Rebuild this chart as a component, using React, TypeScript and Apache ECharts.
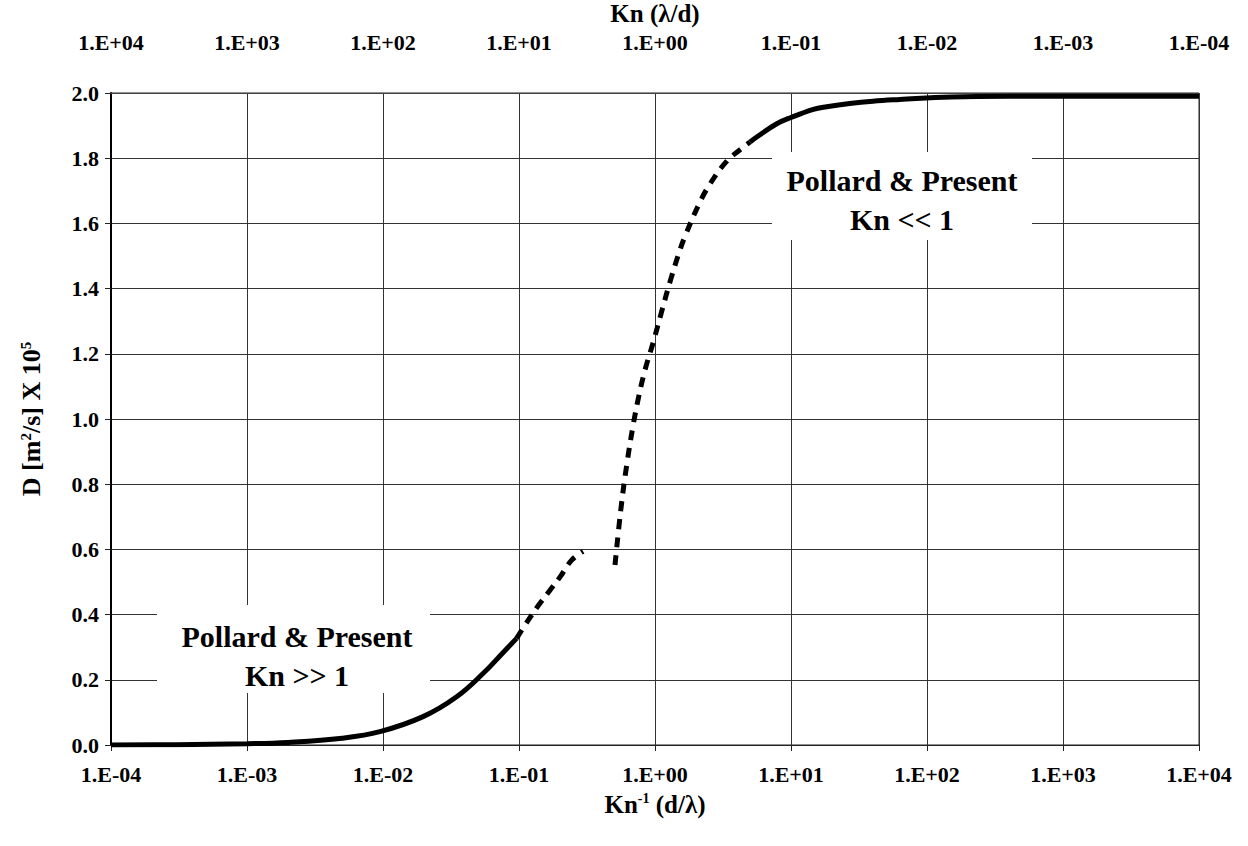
import React, { useEffect, useRef } from "react";
import * as echarts from "echarts";

// Kn^-1 (d/λ) values and D [m²/s] x 10^5
const freeSolidX = [0.0001, 0.0003, 0.001, 0.002, 0.005, 0.0095, 0.0197, 0.0348, 0.0546, 0.075, 0.096];
const freeSolidD = [0.0, 0.001, 0.004, 0.008, 0.021, 0.041, 0.087, 0.148, 0.22, 0.28, 0.327];

const freeDashX = [0.096, 0.117, 0.14, 0.169, 0.2, 0.244, 0.296];
const freeDashD = [0.327, 0.383, 0.43, 0.475, 0.515, 0.567, 0.594];

const contDashX = [0.508, 0.56, 0.62, 0.69, 0.76, 0.844, 0.97, 1.12, 1.3, 1.53, 1.66, 2.11, 2.53, 3.36, 4.34, 5.0];
const contDashD = [0.552, 0.72, 0.86, 0.98, 1.07, 1.15, 1.235, 1.33, 1.426, 1.52, 1.56, 1.66, 1.72, 1.79, 1.83, 1.85];

const contSolidX = [5.0, 5.6, 7.8, 10, 14.6, 18.3, 27, 40, 63, 150, 400, 1000, 10000];
const contSolidD = [1.85, 1.865, 1.905, 1.925, 1.95, 1.958, 1.968, 1.975, 1.98, 1.988, 1.99, 1.99, 1.99];

const yTicks = [0, 0.2, 0.4, 0.6, 0.8, 1.0, 1.2, 1.4, 1.6, 1.8, 2.0];

const annoLow = ["Pollard & Present", "Kn >> 1"];
const annoHigh = ["Pollard & Present", "Kn << 1"];

const pairs = (xs: number[], ys: number[]) => xs.map((x, i) => [x, ys[i]]);

const expLabel = (v: number) => {
  const e = Math.round(Math.log10(v));
  const s = e < 0 ? "-" : "+";
  const a = Math.abs(e);
  return `1.E${s}${a < 10 ? "0" + a : a}`;
};

const FONT = "'Liberation Serif', 'Times New Roman', serif";

export default function App() {
  const ref = useRef<HTMLDivElement>(null);
  useEffect(() => {
    if (!ref.current) return;
    const chart = echarts.init(ref.current, undefined, { renderer: "svg" });
    const lineBase = { type: "line", showSymbol: false, symbol: "none", smooth: 0.4, xAxisIndex: 0, yAxisIndex: 0 };
    chart.setOption({
      animation: false,
      backgroundColor: "#fff",
      grid: {
        left: 111,
        right: 49,
        top: 93,
        bottom: 101,
        show: true,
        borderColor: "#222",
        borderWidth: 1,
        containLabel: false,
        outerBoundsMode: "none",
      },
      xAxis: [
        {
          type: "log",
          logBase: 10,
          min: 0.0001,
          max: 10000,
          position: "bottom",
          name: "Kn{sup|-1} (d/λ)",
          nameLocation: "middle",
          nameGap: 46,
          nameTextStyle: {
            fontFamily: FONT,
            fontWeight: "bold",
            fontSize: 25,
            color: "#000",
            rich: {
              sup: { fontFamily: FONT, fontWeight: "bold", fontSize: 14, verticalAlign: "top", color: "#000", padding: [0, 0, 12, 0] },
            },
          },
          axisLine: { show: true, lineStyle: { color: "#222", width: 1 } },
          axisTick: { show: true, length: 6, inside: false, lineStyle: { color: "#222" } },
          minorTick: { show: false },
          axisLabel: { formatter: expLabel, fontFamily: FONT, fontWeight: "bold", fontSize: 22, color: "#000", margin: 18 },
          splitLine: { show: true, lineStyle: { color: "#333", width: 1 } },
        },
        {
          type: "log",
          logBase: 10,
          min: 0.0001,
          max: 10000,
          inverse: true,
          position: "top",
          name: "Kn (λ/d)",
          nameLocation: "middle",
          nameGap: 62,
          nameTextStyle: { fontFamily: FONT, fontWeight: "bold", fontSize: 25, color: "#000" },
          axisLine: { show: true, lineStyle: { color: "#444", width: 1 } },
          axisTick: { show: false },
          axisLabel: { formatter: expLabel, fontFamily: FONT, fontWeight: "bold", fontSize: 22, color: "#000", margin: 40 },
          splitLine: { show: false },
        },
      ],
      yAxis: {
        type: "value",
        min: 0,
        max: 2,
        interval: 0.2,
        name: "D [m{sup|2}/s] X 10{sup|5}",
        nameLocation: "middle",
        nameRotate: 90,
        nameGap: 66,
        nameTextStyle: {
          fontFamily: FONT,
          fontWeight: "bold",
          fontSize: 26,
          color: "#000",
          rich: {
            sup: { fontFamily: FONT, fontWeight: "bold", fontSize: 15, verticalAlign: "top", color: "#000", padding: [0, 0, 12, 0] },
          },
        },
        axisLine: { show: true, lineStyle: { color: "#000", width: 2 } },
        axisTick: { show: true, length: 6, inside: false, lineStyle: { color: "#222" } },
        axisLabel: {
          formatter: (v: number) => (yTicks.some((t) => Math.abs(t - v) < 1e-9) ? v.toFixed(1) : ""),
          fontFamily: FONT,
          fontWeight: "bold",
          fontSize: 22,
          color: "#000",
          margin: 12,
        },
        splitLine: { show: true, lineStyle: { color: "#333", width: 1 } },
      },
      graphic: [
        { type: "rect", shape: { x: 157, y: 605, width: 273, height: 88 }, style: { fill: "#fff" }, z: 50 },
        { type: "text", x: 297, y: 636, z: 51, style: { text: annoLow[0], font: `bold 30px ${FONT}`, fill: "#000", textAlign: "center", textVerticalAlign: "middle" } },
        { type: "text", x: 297, y: 675, z: 51, style: { text: annoLow[1], font: `bold 30px ${FONT}`, fill: "#000", textAlign: "center", textVerticalAlign: "middle" } },
        { type: "rect", shape: { x: 772, y: 152, width: 260, height: 88 }, style: { fill: "#fff" }, z: 50 },
        { type: "text", x: 902, y: 180, z: 51, style: { text: annoHigh[0], font: `bold 30px ${FONT}`, fill: "#000", textAlign: "center", textVerticalAlign: "middle" } },
        { type: "text", x: 902, y: 219, z: 51, style: { text: annoHigh[1], font: `bold 30px ${FONT}`, fill: "#000", textAlign: "center", textVerticalAlign: "middle" } },
      ],
      series: [
        { ...lineBase, name: "free-solid", data: pairs(freeSolidX, freeSolidD), lineStyle: { color: "#000", width: 5 }, z: 60 },
        { ...lineBase, name: "free-dash", data: pairs(freeDashX, freeDashD), lineStyle: { color: "#000", width: 5, type: [10, 8] }, z: 60 },
        { ...lineBase, name: "cont-dash", data: pairs(contDashX, contDashD), lineStyle: { color: "#000", width: 5, type: [10, 8] }, z: 60 },
        { ...lineBase, name: "cont-solid", data: pairs(contSolidX, contSolidD), lineStyle: { color: "#000", width: 5 }, z: 60 },
      ],
    });
    return () => chart.dispose();
  }, []);
  return <div ref={ref} style={{ width: 1248, height: 846, position: "absolute", left: 0, top: 0 }} />;
}
